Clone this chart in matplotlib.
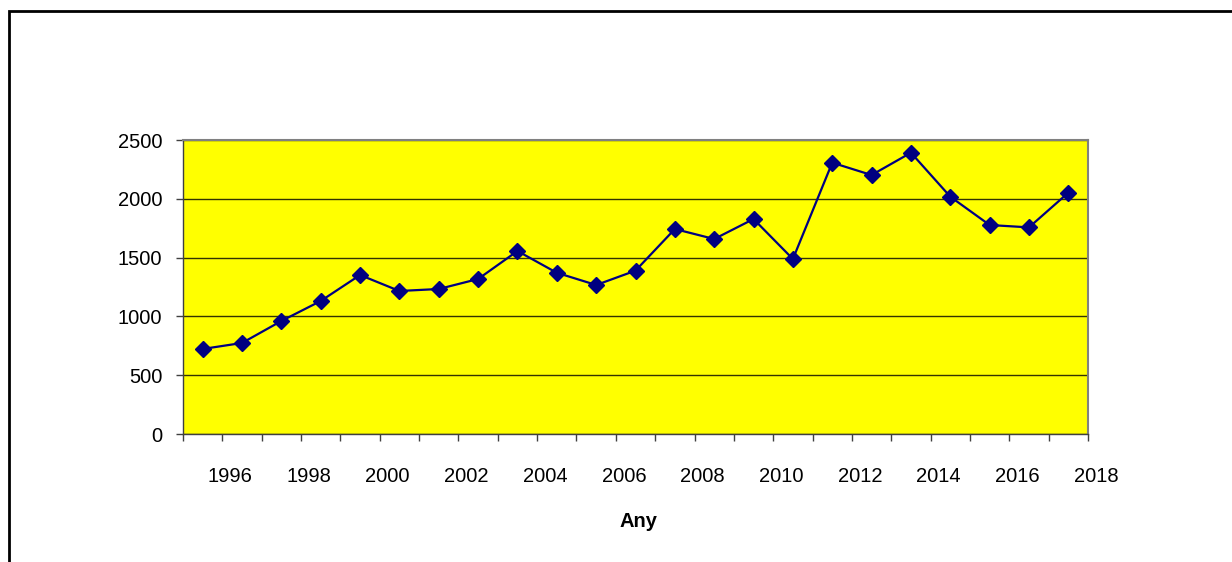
import numpy as np
import matplotlib.pyplot as plt
from matplotlib.patches import Rectangle
from matplotlib.transforms import ScaledTranslation

# values, one per year 1995..2017
years = list(range(1995, 2018))
values = [723, 774, 961, 1131, 1352, 1216, 1233, 1318, 1556, 1371, 1267, 1389,
          1743, 1658, 1828, 1488, 2307, 2202, 2392, 2018, 1777, 1757, 2052]
xlabels = ['1996', '1998', '2000', '2002', '2004', '2006',
           '2008', '2010', '2012', '2014', '2016', '2018']
yticks = [0, 500, 1000, 1500, 2000, 2500]

plt.rcParams['font.family'] = ['Liberation Sans', 'DejaVu Sans']
fs = 14.5

W, H = 1232, 562
fig = plt.figure(figsize=(W / 100, H / 100), dpi=100)

# outer chart frame (only left and top visible)
fig.patches.append(Rectangle((9 / W, -0.1), 1.2, 1 - 11 / H + 0.1,
                             transform=fig.transFigure, fill=False,
                             edgecolor='black', linewidth=2))

ax = fig.add_axes([183 / W, 1 - 434 / H, (1088 - 183) / W, (434 - 140) / H])
ax.set_facecolor('#ffff00')

pos = np.arange(len(years))
ax.plot(pos, values, color='#000080', linewidth=1.6, marker='D',
        markersize=8.5, markerfacecolor='#000080', markeredgecolor='#000080')

ax.set_xlim(-0.5, len(years) - 0.5)
ax.set_ylim(0, 2500)

# boundaries between categories get ticks, every other one a label
bounds = np.arange(len(years) + 1) - 0.5
ax.set_xticks(bounds, minor=True)
ax.set_xticks(bounds[1::2])
ax.set_xticklabels(xlabels)
ax.tick_params(axis='x', which='both', direction='out', length=5, width=1,
               color='#404040')
ax.tick_params(axis='x', which='major', pad=18.5, labelsize=fs)
shift = ScaledTranslation(8 / 100, 0, fig.dpi_scale_trans)
for lab in ax.get_xticklabels():
    lab.set_transform(lab.get_transform() + shift)

ax.set_yticks(yticks)
ax.tick_params(axis='y', direction='out', length=5, width=1, color='#404040',
               pad=10, labelsize=fs)
ax.yaxis.grid(True, color='#333300', linewidth=1)
ax.set_axisbelow(True)

for s in ['top', 'right']:
    ax.spines[s].set_color('#808080')
    ax.spines[s].set_linewidth(1.5)
for s in ['left', 'bottom']:
    ax.spines[s].set_color('#404040')
    ax.spines[s].set_linewidth(1)

ax.set_xlabel('Any', fontweight='bold', fontsize=fs)
ax.xaxis.set_label_coords(0.503, -0.266)

fig.savefig('out.png', dpi=100)
